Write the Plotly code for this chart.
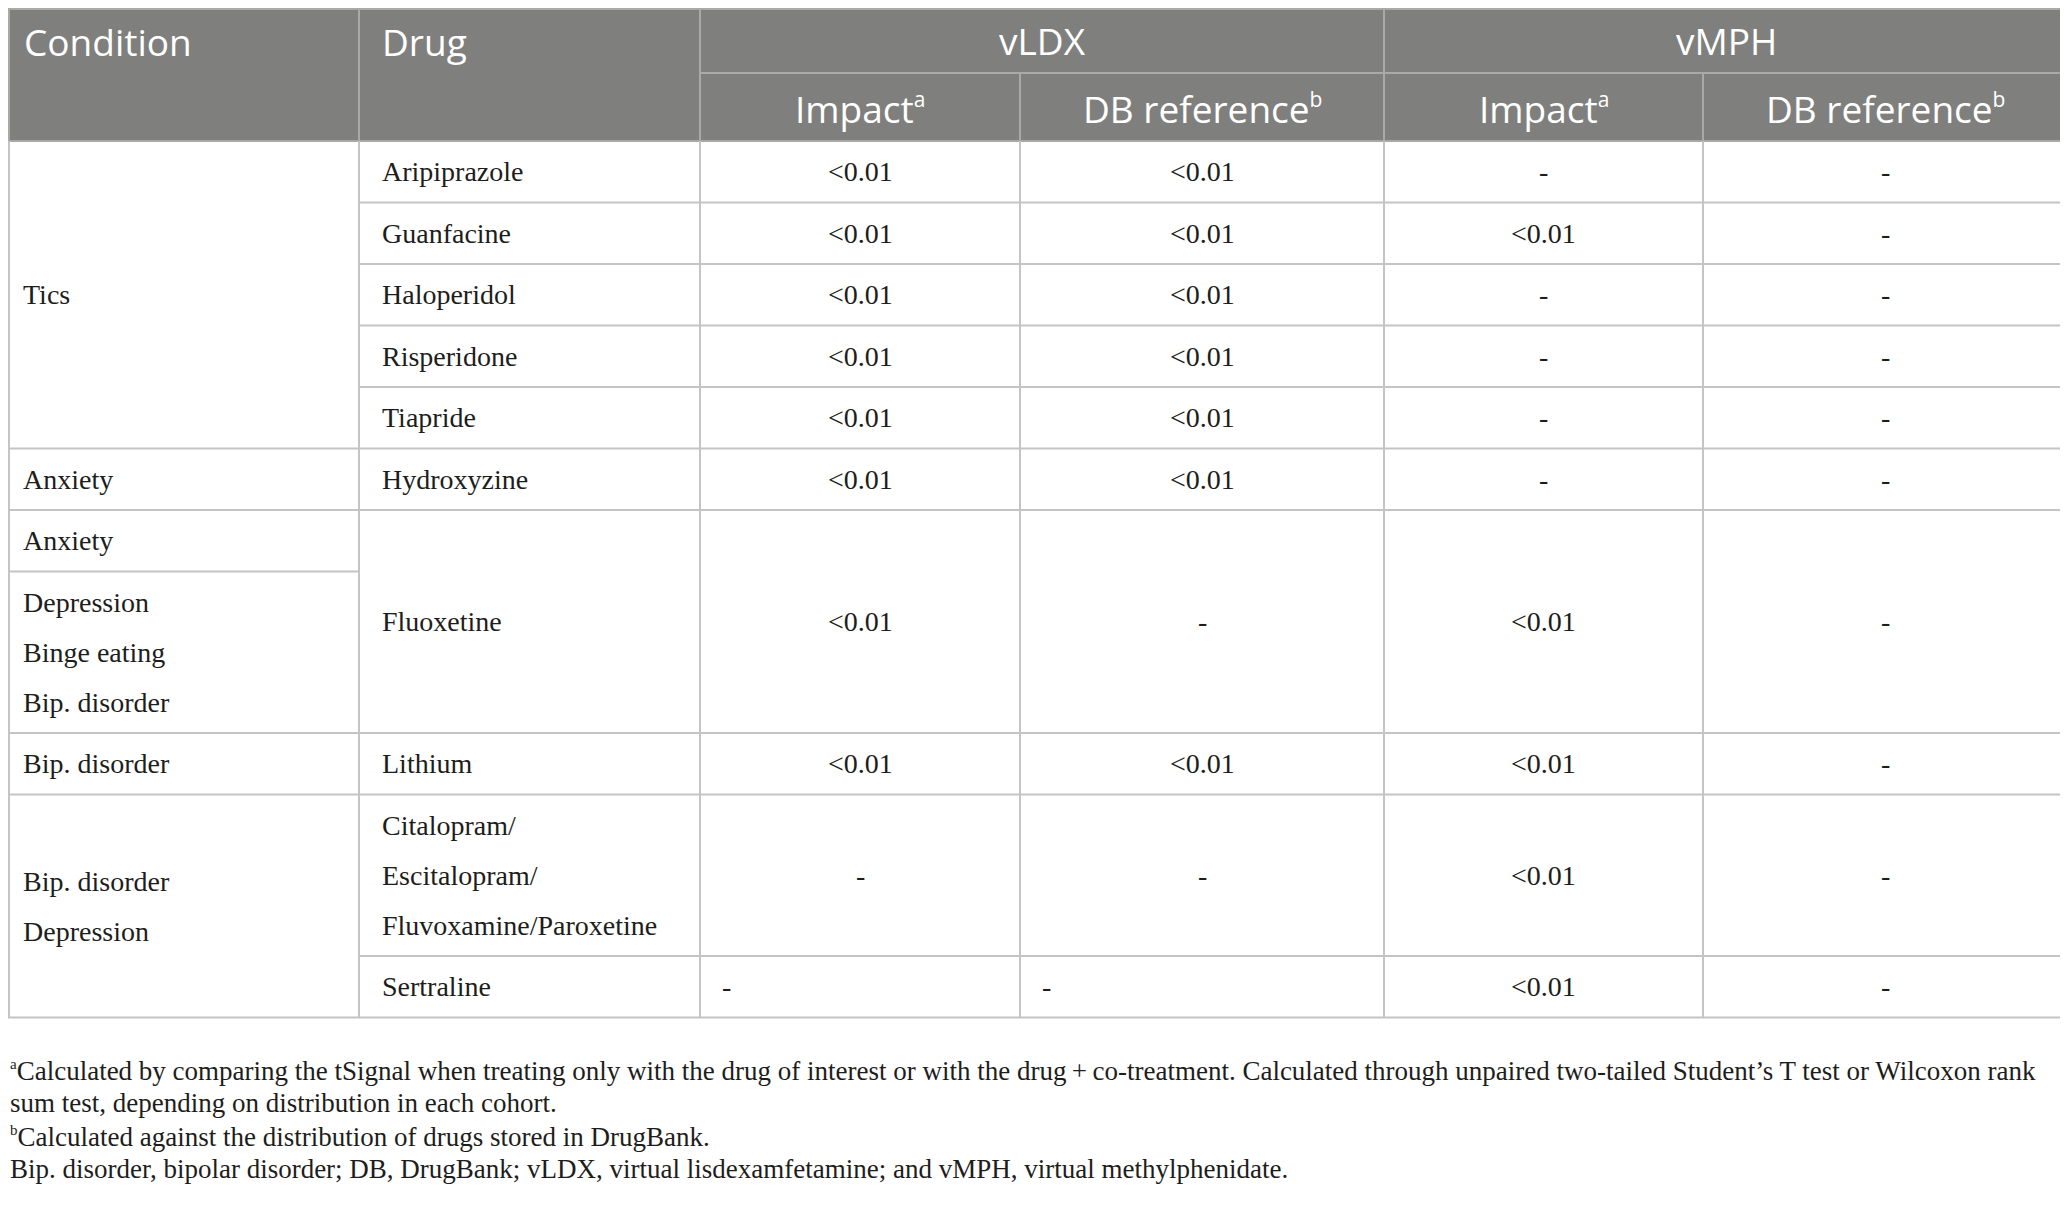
import plotly.graph_objects as go

W, H = 2068, 1206
PAGE = 8  # default page margin of the html body

# header texts
top_heads = ["Condition", "Drug"]
group_heads = ["vLDX", "vMPH"]
sub_heads = ["Impact<sup><span style='font-size:21px'>a</span></sup>",
             "DB reference<sup><span style='font-size:21px'>b</span></sup>"]

# condition column (cells do not line up with drug rows everywhere)
conditions = ["Tics", "Anxiety", "Anxiety", "Depression|Binge eating|Bip. disorder",
              "Bip. disorder", "Bip. disorder|Depression"]

# one entry per drug row
drugs = ["Aripiprazole", "Guanfacine", "Haloperidol", "Risperidone", "Tiapride",
         "Hydroxyzine", "Fluoxetine", "Lithium",
         "Citalopram/|Escitalopram/|Fluvoxamine/Paroxetine", "Sertraline"]
vldx_impact = ["<0.01", "<0.01", "<0.01", "<0.01", "<0.01", "<0.01", "<0.01", "<0.01", "-", "-"]
vldx_db = ["<0.01", "<0.01", "<0.01", "<0.01", "<0.01", "<0.01", "-", "<0.01", "-", "-"]
vmph_impact = ["-", "<0.01", "-", "-", "-", "-", "<0.01", "<0.01", "<0.01", "<0.01"]
vmph_db = ["-", "-", "-", "-", "-", "-", "-", "-", "-", "-"]

footnotes = [
    "<sup><span style='font-size:15px'>a</span></sup>Calculated by comparing the tSignal when treating only with the drug of interest or with the drug\u2009+\u2009co-treatment. Calculated through unpaired two-tailed Student\u2019s T test or Wilcoxon rank",
    "sum test, depending on distribution in each cohort.",
    "<sup><span style='font-size:15px'>b</span></sup>Calculated against the distribution of drugs stored in DrugBank.",
    "Bip. disorder, bipolar disorder; DB, DrugBank; vLDX, virtual lisdexamfetamine; and vMPH, virtual methylphenidate.",
]

# ---- layout geometry (screen pixels) ----
cols = [0, 359, 700, 1020, 1384, 1703, 2068]
head_top, head_mid, head_bot = 4, 73, 141
ROW, LINE = 61.5, 50
drug_h = [ROW] * 6 + [2 * ROW + 2 * LINE, ROW, ROW + 2 * LINE, ROW]
cond_h = [5 * ROW, ROW, ROW, ROW + 2 * LINE, ROW, 2 * ROW + 2 * LINE]
left_cells = {(9, 0), (9, 1)}   # dashes set flush left in the source
foot_y = [1071, 1103, 1137, 1169]

HEAD_BG = "#7f807e"
GRID = "#c4c4c4"
HEAD_GRID = "#a9aaa8"
INK = "#1d1d1b"
serif = "Liberation Serif"
sans = "Open Sans"

fig = go.Figure()
shapes = []
ann = []


def line(x0, y0, x1, y1, color=GRID, w=2):
    shapes.append(dict(type="line", xref="x", yref="y", x0=x0, y0=y0, x1=x1, y1=y1,
                       line=dict(color=color, width=w), layer="above"))


def text(x, y, s, anchor="left", size=28, font=serif, color=INK):
    ann.append(dict(x=x, y=y, xref="x", yref="y", text=s, showarrow=False,
                    xanchor=anchor, yanchor="middle",
                    font=dict(family=font, size=size, color=color)))


def cell_lines(x, y0, y1, s, anchor="left"):
    parts = s.split("|")
    c = (y0 + y1) / 2
    n = len(parts)
    for i, p in enumerate(parts):
        text(x, c + (i - (n - 1) / 2) * LINE, p, anchor)


# visible edges (page margin hides the first pixels)
X0, Y0, X1 = PAGE + 1, PAGE + 1, W - 1

# header background
shapes.append(dict(type="rect", xref="x", yref="y", x0=PAGE, y0=PAGE, x1=W, y1=head_bot,
                   fillcolor=HEAD_BG, line=dict(width=0), layer="below"))

# header texts
text(cols[0] + 22, 41, top_heads[0], size=37, font=sans, color="white")
text(cols[1] + 21, 41, top_heads[1], size=37, font=sans, color="white")
for g, name in enumerate(group_heads):
    xa, xb = cols[2 + 2 * g], cols[4 + 2 * g]
    text((xa + xb) / 2, 40, name, "center", size=37, font=sans, color="white")
    for k, sh in enumerate(sub_heads):
        xa, xb = cols[2 + 2 * g + k], cols[3 + 2 * g + k]
        text((xa + xb) / 2, 108, sh, "center", size=37, font=sans, color="white")

# header grid
line(PAGE, Y0, W, Y0, HEAD_GRID)
line(cols[2], head_mid, W, head_mid, HEAD_GRID)
line(PAGE, head_bot, W, head_bot, HEAD_GRID)
for x in [cols[1], cols[2], cols[4]]:
    line(x, PAGE, x, head_bot, HEAD_GRID)
for x in [cols[3], cols[5]]:
    line(x, head_mid, x, head_bot, HEAD_GRID)
line(X0, PAGE, X0, head_bot, HEAD_GRID)
line(X1, PAGE, X1, head_bot, HEAD_GRID)

# condition column
y = head_bot
for s, h in zip(conditions, cond_h):
    cell_lines(cols[0] + 21, y, y + h, s)
    y += h
    line(PAGE, y, cols[1], y)

# drug rows
values = [vldx_impact, vldx_db, vmph_impact, vmph_db]
y = head_bot
for r, h in enumerate(drug_h):
    cell_lines(cols[1] + 21, y, y + h, drugs[r])
    for k, col in enumerate(values):
        xa, xb = cols[2 + k], cols[3 + k]
        if (r, k) in left_cells:
            text(xa + 20, y + h / 2, col[r])
        else:
            text((xa + xb) / 2, y + h / 2, col[r], "center")
    y += h
    line(cols[1], y, W, y)
body_bot = y

for x in cols:
    xx = min(max(x, X0), X1)
    line(xx, head_bot, xx, body_bot)

# footnotes
for s, fy in zip(footnotes, foot_y):
    text(PAGE, fy, s, size=27)

fig.update_layout(
    width=W - PAGE, height=H - PAGE,
    margin=dict(l=0, r=0, t=0, b=0),
    paper_bgcolor="white", plot_bgcolor="white",
    xaxis=dict(range=[PAGE, W], visible=False, fixedrange=True),
    yaxis=dict(range=[H, PAGE], visible=False, fixedrange=True),
    shapes=shapes, annotations=ann, showlegend=False,
)

fig.write_html("out.html")
